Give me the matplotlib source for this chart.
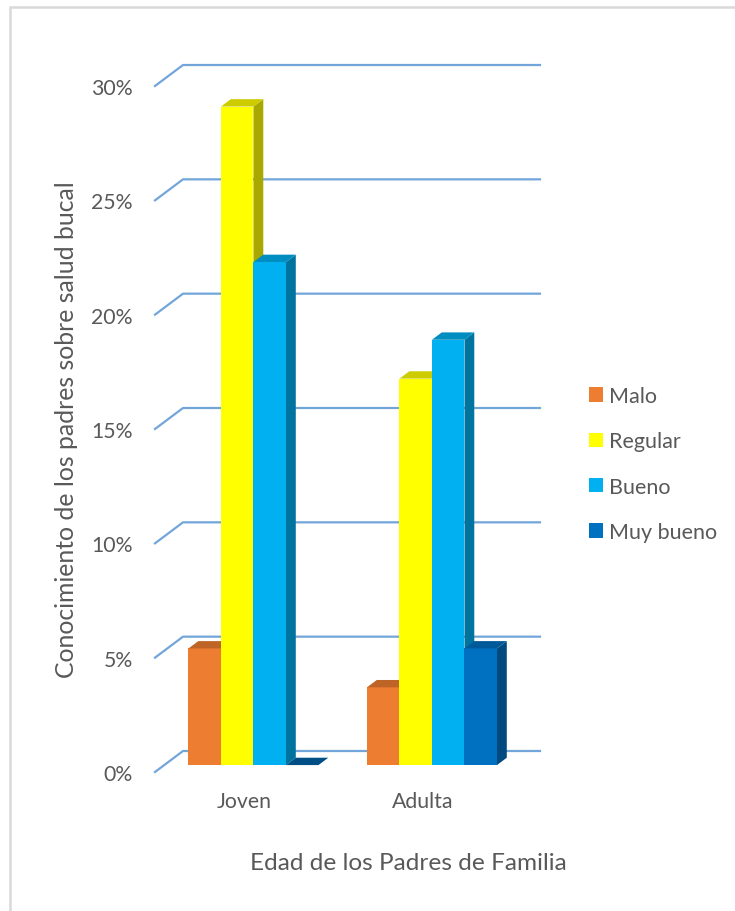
import numpy as np
import matplotlib.pyplot as plt
from matplotlib.patches import Polygon, Patch, Rectangle
from matplotlib.colors import to_rgb

plt.rcParams['font.family'] = ['Lato', 'DejaVu Sans']

# data (percent), one row per age group
groups = ['Joven', 'Adulta']
series = ['Malo', 'Regular', 'Bueno', 'Muy bueno']
values = [
    [5.1, 28.8, 22.0, 0.0],
    [3.4, 16.9, 18.6, 5.1],
]
colors = ['#ED7D31', '#FFFF00', '#00B0F0', '#0070C0']
yticks = [0, 5, 10, 15, 20, 25, 30]

W, H = 735, 912
fig = plt.figure(figsize=(W / 100, H / 100), dpi=100)
fig.patch.set_facecolor('white')

# axes = front plane of the 3d box
ax = fig.add_axes([155 / W, 1 - 773 / H, 357 / W, 686 / H])
ax.set_xlim(-0.5, 1.5)
ax.set_ylim(0, 30)
for s in ax.spines.values():
    s.set_visible(False)
ax.patch.set_alpha(0)

# depth of the box in data units
DX, DY = 28 / 178.5, 21 / 22.87
grid_c = '#72a6da'
for v in yticks:
    ax.plot([-0.5, -0.5 + DX, 1.5 + DX], [v, v + DY, v + DY],
            color=grid_c, lw=1.6, clip_on=False, zorder=1)

# bars sit in the middle of the depth
f0, f1 = 0.33, 0.68
bw = 32.5 / 178.5
ox, oy = f0 * DX, f0 * DY
dx, dy = (f1 - f0) * DX, (f1 - f0) * DY


def shade(c, k):
    r, g, b = to_rgb(c)
    return (r * k, g * k, b * k)


z = 3
for gi, g in enumerate(groups):
    x_start = gi - 2 * bw
    for si, c in enumerate(colors):
        v = values[gi][si]
        x0 = x_start + si * bw + ox
        x1 = x0 + bw
        y0 = oy
        y1 = oy + v
        if v > 0:
            ax.bar(x0, v, width=bw, bottom=y0, align='edge', color=c,
                   lw=0, clip_on=False, zorder=z)
            side = Polygon([(x1, y0), (x1 + dx, y0 + dy), (x1 + dx, y1 + dy), (x1, y1)],
                           closed=True, fc=shade(c, 0.66), lw=0, clip_on=False, zorder=z)
            ax.add_patch(side)
        top = Polygon([(x0, y1), (x1, y1), (x1 + dx, y1 + dy), (x0 + dx, y1 + dy)],
                      closed=True, fc=shade(c, 0.8) if v > 0 else shade(c, 0.7),
                      lw=0, clip_on=False, zorder=z)
        ax.add_patch(top)
        z += 1

txt_c = '#595959'
ax.set_yticks(yticks)
ax.set_yticklabels([f'{v}%' for v in yticks], fontsize=15.3, color=txt_c)
ax.set_xticks(range(len(groups)))
ax.set_xticklabels(groups, fontsize=15.3, color=txt_c)
ax.tick_params(axis='y', length=0, pad=16)
ax.tick_params(axis='x', length=0, pad=14)

fig.text(408 / W, 1 - 864 / H, 'Edad de los Padres de Familia', ha='center', va='center',
         fontsize=17.6, color=txt_c)
fig.text(67 / W, 1 - 430 / H, 'Conocimiento de los padres sobre salud bucal', ha='center',
         va='center', rotation=90, fontsize=17.8, color=txt_c)

handles = [Patch(fc=c, ec='none') for c in colors]
fig.legend(handles, series, loc='center left', bbox_to_anchor=(589 / W, 1 - 465 / H),
           frameon=False, fontsize=15.5, labelcolor=txt_c, handlelength=0.65,
           handleheight=0.65, handletextpad=0.28, labelspacing=1.18, borderpad=0,
           borderaxespad=0)

# chart frame
fig.add_artist(Rectangle((10 / W, -0.2), 1.2, 1.2 - 8 / H, transform=fig.transFigure,
                         fill=False, ec='#d9d9d9', lw=1.8))

fig.savefig('out.png', dpi=100)
